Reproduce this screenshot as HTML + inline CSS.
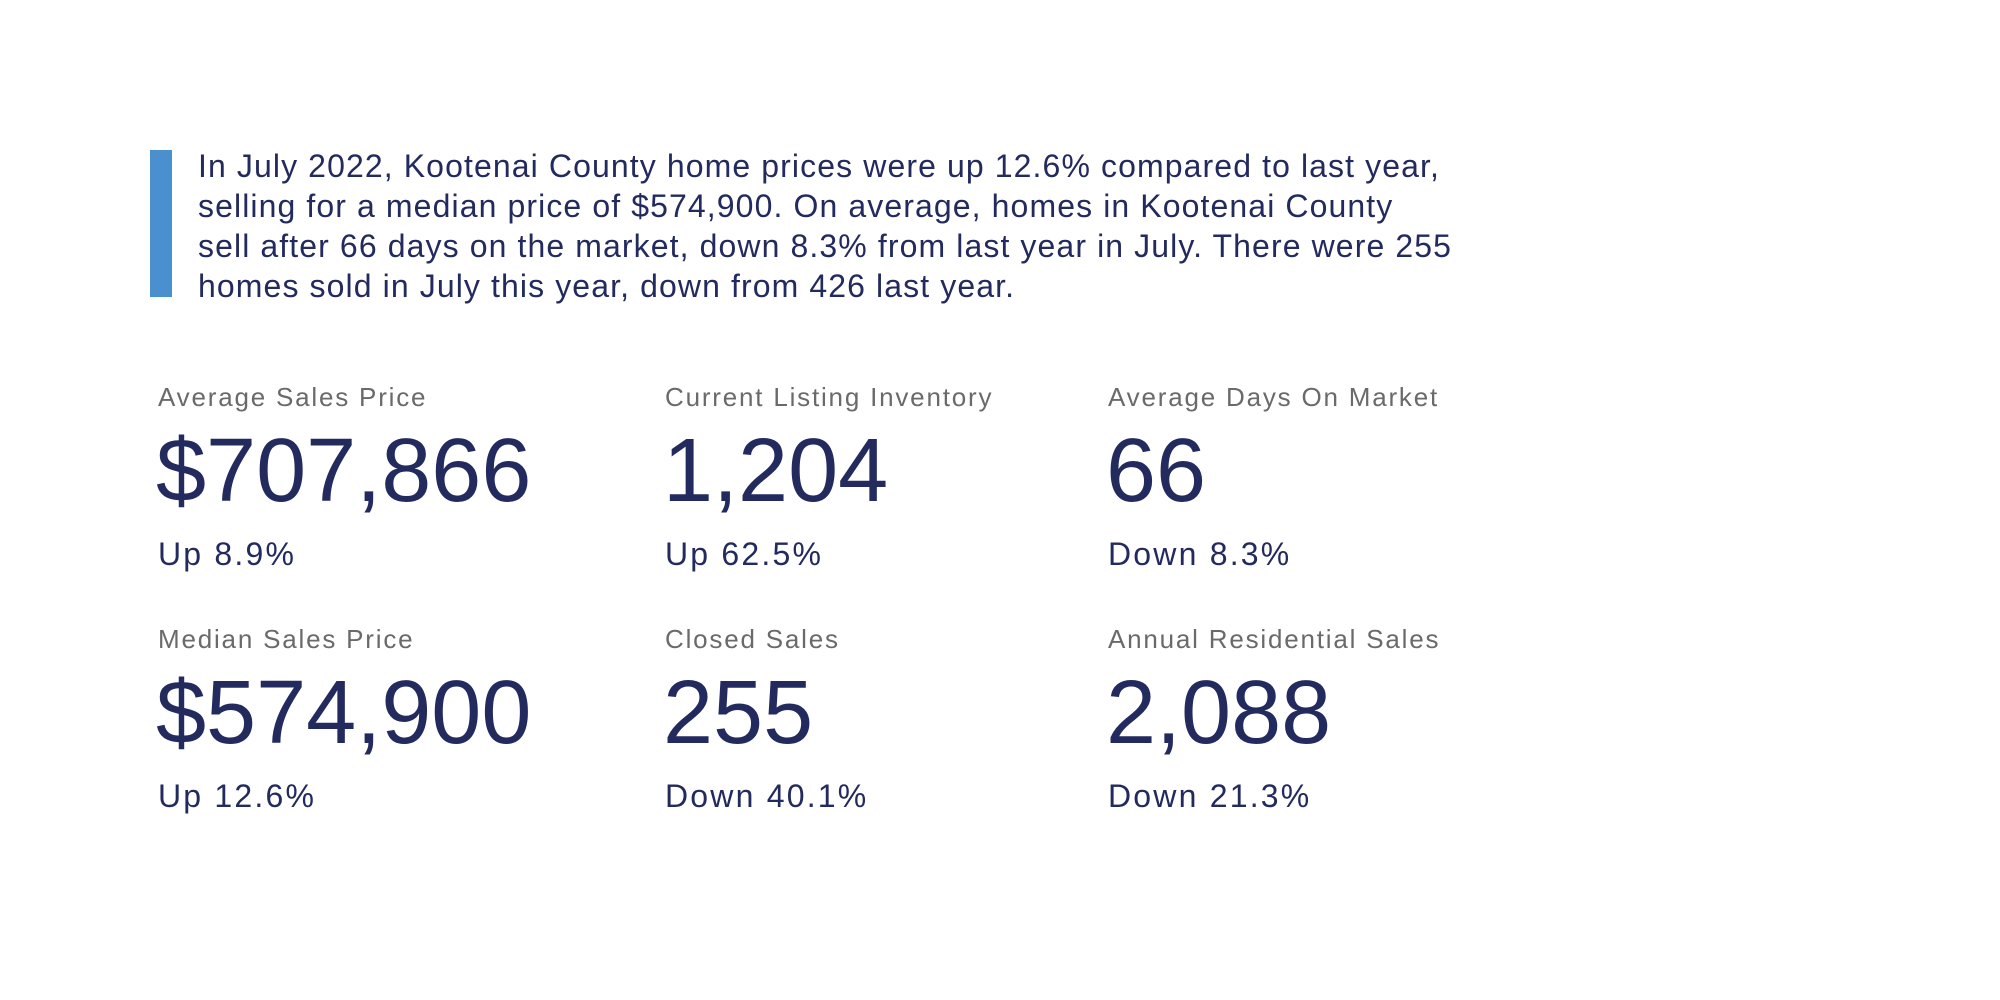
<!DOCTYPE html>
<html><head><meta charset="utf-8"><style>
body{margin:0;width:2000px;height:1000px;background:#fff;position:relative;overflow:hidden;font-family:"Liberation Sans",Helvetica,Arial,sans-serif;}
.bar{position:absolute;left:150px;top:150px;width:22px;height:147px;background:#4a8fce;}
.p{position:absolute;left:198px;top:146px;font-size:32px;letter-spacing:1.1px;line-height:40px;color:#232a5e;white-space:nowrap;}
.c{position:absolute;}
.l{font-size:26px;color:#6a6a6a;letter-spacing:1.8px;white-space:nowrap;}
.n{font-size:90px;color:#232a5e;white-space:nowrap;}
.s{font-size:32px;color:#232a5e;letter-spacing:2.2px;white-space:nowrap;}
</style></head><body>
<div class="bar"></div>
<div class="p">In July 2022, Kootenai County home prices were up 12.6% compared to last year,<br>selling for a median price of $574,900. On average, homes in Kootenai County<br>sell after 66 days on the market, down 8.3% from last year in July. There were 255<br>homes sold in July this year, down from 426 last year.</div>

<div class="c l" style="left:158px;top:382px">Average Sales Price</div>
<div class="c n" style="left:156px;top:420px">$707,866</div>
<div class="c s" style="left:158px;top:536px">Up 8.9%</div>

<div class="c l" style="left:665px;top:382px">Current Listing Inventory</div>
<div class="c n" style="left:663px;top:420px">1,204</div>
<div class="c s" style="left:665px;top:536px">Up 62.5%</div>

<div class="c l" style="left:1108px;top:382px">Average Days On Market</div>
<div class="c n" style="left:1106px;top:420px">66</div>
<div class="c s" style="left:1108px;top:536px">Down 8.3%</div>

<div class="c l" style="left:158px;top:624px">Median Sales Price</div>
<div class="c n" style="left:156px;top:662px">$574,900</div>
<div class="c s" style="left:158px;top:778px">Up 12.6%</div>

<div class="c l" style="left:665px;top:624px">Closed Sales</div>
<div class="c n" style="left:663px;top:662px">255</div>
<div class="c s" style="left:665px;top:778px">Down 40.1%</div>

<div class="c l" style="left:1108px;top:624px">Annual Residential Sales</div>
<div class="c n" style="left:1106px;top:662px">2,088</div>
<div class="c s" style="left:1108px;top:778px">Down 21.3%</div>
</body></html>
